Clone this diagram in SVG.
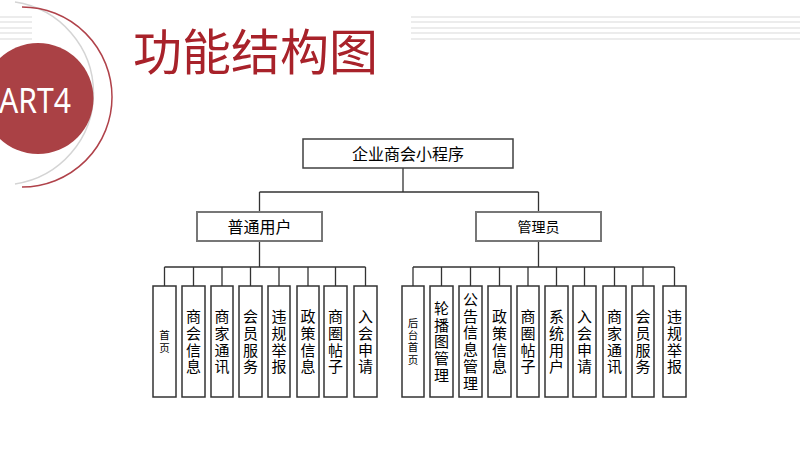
<svg xmlns="http://www.w3.org/2000/svg" width="800" height="450" viewBox="0 0 800 450">
<style>
.stripe{stroke:#d9d9d9;stroke-width:1.2;fill:none}
.title{font-family:"Noto Sans CJK SC","Noto Sans",sans-serif;font-size:49px;fill:#a8222a}
.root rect{fill:#fff;stroke:#404040;stroke-width:1.5}
.lvl2 rect{fill:#fff;stroke:#777;stroke-width:2}
.leaf rect{fill:#fff;stroke:#333;stroke-width:1.5}
.t{font-family:"Noto Sans CJK SC","Noto Sans",sans-serif;fill:#000;text-anchor:middle}
.v{font-family:"Noto Sans CJK SC","Noto Sans",sans-serif;fill:#000;text-anchor:middle;writing-mode:vertical-rl;text-orientation:upright;font-size:15px;letter-spacing:1.7px}
.vs{font-size:10.5px;letter-spacing:1.8px}
.f16{font-size:16px}
.f14{font-size:14px}
#connectors path{fill:none;stroke:#333;stroke-width:1.3}
</style>
<rect width="800" height="450" fill="#fff"/>
<g id="decor">
<path class="stripe" d="M0 17H32M0 22H32M0 28H32M0 33H32M0 39H32"/>
<path class="stripe" d="M411 17H800M411 22H800M411 28H800M411 33H800M411 39H800"/>
<path d="M15 2 A92 92 0 0 1 15 184" fill="none" stroke="#d4d4d4" stroke-width="1.5"/>
<path d="M22 7 A90 90 0 0 1 22 187" fill="none" stroke="#b0424a" stroke-width="1.5"/>
<circle cx="38" cy="98.5" r="55.5" fill="#aa4145"/>
<text x="-1" y="113" font-family="Noto Sans,DejaVu Sans,sans-serif" font-size="34" fill="#fff" textLength="72" lengthAdjust="spacingAndGlyphs">ART4</text>
<text class="title" x="133" y="69.5">功能结构图</text>
</g>
<g id="connectors">
<path d="M403 168V192M259.5 192H538.5M259.5 192V212M538.5 192V212"/>
<path d="M259.5 241V267M164.5 267H365.5M164.5 267V286M193.5 267V286M222 267V286M250.5 267V286M279 267V286M308 267V286M335.5 267V286M365.5 267V286"/>
<path d="M538.5 241V267M413 267H674.5M413 267V286M441.5 267V286M470.5 267V286M499.5 267V286M528 267V286M556.5 267V286M584.5 267V286M614.5 267V286M643 267V286M674.5 267V286"/>
</g>
<g id="root" class="root"><rect x="303" y="139" width="210" height="29"/><text class="t f16" x="408" y="159.6">企业商会小程序</text></g>
<g id="user" class="lvl2"><rect x="197" y="212" width="125" height="29"/><text class="t f16" x="259.5" y="232.6">普通用户</text></g>
<g id="admin" class="lvl2"><rect x="476" y="212" width="125" height="29"/><text class="t f14" x="538.5" y="231.8">管理员</text></g>
<g id="u1" class="leaf"><rect x="153" y="286" width="23" height="111"/><text class="v vs" x="164.5" y="342.5">首页</text></g>
<g id="u2" class="leaf"><rect x="182" y="286" width="23" height="111"/><text class="v" x="193.5" y="342.5">商会信息</text></g>
<g id="u3" class="leaf"><rect x="211" y="286" width="22" height="111"/><text class="v" x="222" y="342.5">商家通讯</text></g>
<g id="u4" class="leaf"><rect x="239" y="286" width="23" height="111"/><text class="v" x="250.5" y="342.5">会员服务</text></g>
<g id="u5" class="leaf"><rect x="268" y="286" width="22" height="111"/><text class="v" x="279" y="342.5">违规举报</text></g>
<g id="u6" class="leaf"><rect x="297" y="286" width="22" height="111"/><text class="v" x="308" y="342.5">政策信息</text></g>
<g id="u7" class="leaf"><rect x="324" y="286" width="23" height="111"/><text class="v" x="335.5" y="342.5">商圈帖子</text></g>
<g id="u8" class="leaf"><rect x="354" y="286" width="23" height="111"/><text class="v" x="365.5" y="342.5">入会申请</text></g>
<g id="a1" class="leaf"><rect x="402" y="286" width="22" height="111"/><text class="v vs" x="413" y="342">后台首页</text></g>
<g id="a2" class="leaf"><rect x="430" y="286" width="23" height="111"/><text class="v" x="441.5" y="342.5">轮播图管理</text></g>
<g id="a3" class="leaf"><rect x="459" y="286" width="23" height="111"/><text class="v" x="470.5" y="342">公告信息管理</text></g>
<g id="a4" class="leaf"><rect x="488" y="286" width="23" height="111"/><text class="v" x="499.5" y="342.5">政策信息</text></g>
<g id="a5" class="leaf"><rect x="517" y="286" width="22" height="111"/><text class="v" x="528" y="342.5">商圈帖子</text></g>
<g id="a6" class="leaf"><rect x="545" y="286" width="23" height="111"/><text class="v" x="556.5" y="342.5">系统用户</text></g>
<g id="a7" class="leaf"><rect x="573" y="286" width="23" height="111"/><text class="v" x="584.5" y="342.5">入会申请</text></g>
<g id="a8" class="leaf"><rect x="603" y="286" width="23" height="111"/><text class="v" x="614.5" y="342.5">商家通讯</text></g>
<g id="a9" class="leaf"><rect x="632" y="286" width="22" height="111"/><text class="v" x="643" y="342.5">会员服务</text></g>
<g id="a10" class="leaf"><rect x="663" y="286" width="23" height="111"/><text class="v" x="674.5" y="342.5">违规举报</text></g>
</svg>
